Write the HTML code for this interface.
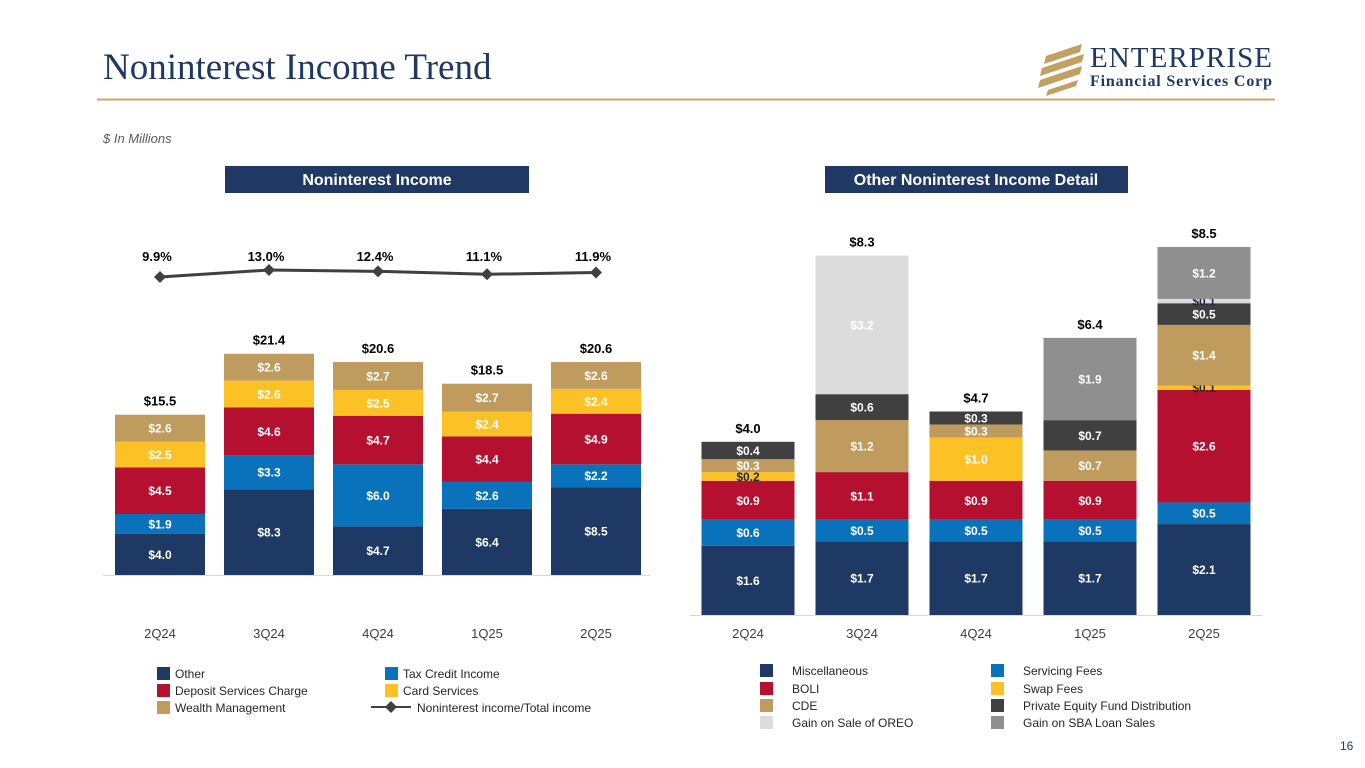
<!DOCTYPE html>
<html><head><meta charset="utf-8"><style>
body{margin:0;width:1365px;height:768px;background:#fff;overflow:hidden;font-family:"Liberation Sans",sans-serif;}
svg{position:absolute;left:0;top:0}
</style></head><body>
<svg id="s" width="1365" height="768" xmlns="http://www.w3.org/2000/svg">
<text x="103" y="79" font-family="Liberation Serif" font-size="37" fill="#1f3864">Noninterest Income Trend</text>
<g>
<polygon points="1046,56 1082,44 1080,52 1044,64" fill="#c2a061"/>
<polygon points="1042,68 1084,54 1082,62 1040,76" fill="#c2a061"/>
<polygon points="1040,80 1082,66 1080,74 1038,88" fill="#c2a061"/>
<polygon points="1048,90 1078,80 1076,86 1046,96" fill="#c2a061"/>
<text x="1090" y="67" font-family="Liberation Serif" font-size="29" fill="#1f3864" textLength="182">ENTERPRISE</text>
<text x="1090" y="86" font-family="Liberation Serif" font-size="16" font-weight="bold" fill="#1f3864" textLength="182">Financial Services Corp</text>
</g>
<line x1="97" y1="99.5" x2="1275" y2="99.5" stroke="#c8a96a" stroke-width="2"/>
<text x="103" y="143" font-size="13" font-style="italic" fill="#595959">$ In Millions</text>
<rect x="225" y="166" width="304" height="27" fill="#1f3864"/>
<text x="377" y="185" font-size="16" font-weight="bold" fill="#fff" text-anchor="middle">Noninterest Income</text>
<rect x="825" y="166" width="303" height="27" fill="#1f3864"/>
<text x="976" y="185" font-size="16" font-weight="bold" fill="#fff" text-anchor="middle">Other Noninterest Income Detail</text>
<text x="1340" y="750" font-size="12" fill="#1f3864">16</text>
<g id="L"></g><g id="R"></g>
</svg>
<script>
const catsL=["2Q24","3Q24","4Q24","1Q25","2Q25"];
const other=[4.0,8.3,4.7,6.4,8.5];
const taxCredit=[1.9,3.3,6.0,2.6,2.2];
const deposit=[4.5,4.6,4.7,4.4,4.9];
const card=[2.5,2.6,2.5,2.4,2.4];
const wealth=[2.6,2.6,2.7,2.7,2.6];
const ratio=[9.9,13.0,12.4,11.1,11.9];

const catsR=["2Q24","3Q24","4Q24","1Q25","2Q25"];
const misc=[1.6,1.7,1.7,1.7,2.1];
const servicing=[0.6,0.5,0.5,0.5,0.5];
const boli=[0.9,1.1,0.9,0.9,2.6];
const swap=[0.2,0,1.0,0,0.1];
const cde=[0.3,1.2,0.3,0.7,1.4];
const pe=[0.4,0.6,0.3,0.7,0.5];
const oreo=[0,3.2,0,0,0.1];
const sba=[0,0,0,1.9,1.2];

const NS="http://www.w3.org/2000/svg";
function mk(p,t,a,txt){const e=document.createElementNS(NS,t);for(const k in a)e.setAttribute(k,a[k]);if(txt!==undefined)e.textContent=txt;p.appendChild(e);return e;}
function stack(g,cats,series,x0,step,bw,base,sc,labelFn){
  cats.forEach((c,i)=>{
    let y=base,tot=0;const cx=x0+i*step;
    series.forEach(s=>{const v=s.d[i];if(!v)return;const h=v*sc;
      const r=mk(g,'rect',{x:cx-bw/2,y:y-h,width:bw,height:h,fill:s.c});
      
      
      const t=mk(g,'text',{x:cx,y:y-h/2+4.5,'font-size':12,'font-weight':'bold','text-anchor':'middle',fill:labelFn(v,s)},'$'+v.toFixed(1));
      
      
      y-=h;tot+=v;});
    const tt=mk(g,'text',{x:cx,y:y-9,'font-size':13,'font-weight':'bold','text-anchor':'middle',fill:'#000'},'$'+tot.toFixed(1));
    
    
    const cl=mk(g,'text',{x:cx,y:638,'font-size':13,'text-anchor':'middle',fill:'#404040'},c);
    
    
  });
}
// Left
const L=document.getElementById('L');
const ax1=mk(L,'line',{x1:103,y1:575.5,x2:650,y2:575.5,stroke:'#d9d9d9'});


stack(L,catsL,[{d:other,c:'#1e3a64',n:'other'},{d:taxCredit,c:'#0a72ba',n:'tax-credit'},{d:deposit,c:'#b5102f',n:'deposit'},{d:card,c:'#fcc225',n:'card'},{d:wealth,c:'#bf9b5e',n:'wealth'}],160,109,90,575,10.34,()=>'#fff');
const ry=v=>277-(v-9.9)*2.26;
const pts=ratio.map((v,i)=>(160+i*109)+','+ry(v)).join(' ');
const pl=mk(L,'polyline',{points:pts,fill:'none',stroke:'#404040','stroke-width':3});


ratio.forEach((v,i)=>{const x=160+i*109,y=ry(v);
  const d=mk(L,'polygon',{points:`${x},${y-6} ${x+6},${y} ${x},${y+6} ${x-6},${y}`,fill:'#404040'});
  
  
  const t=mk(L,'text',{x:x-3,y:261,'font-size':13,'font-weight':'bold','text-anchor':'middle',fill:'#000'},v.toFixed(1)+'%');
  
  });
// Right
const R=document.getElementById('R');
const ax2=mk(R,'line',{x1:690,y1:615.5,x2:1262,y2:615.5,stroke:'#d9d9d9'});


stack(R,catsR,[{d:misc,c:'#1e3a64',n:'misc'},{d:servicing,c:'#0a72ba',n:'servicing'},{d:boli,c:'#b5102f',n:'boli'},{d:swap,c:'#fcc225',n:'swap'},{d:cde,c:'#bf9b5e',n:'cde'},{d:pe,c:'#404040',n:'pe'},{d:oreo,c:'#dcdcdc',n:'oreo'},{d:sba,c:'#8f8f8f',n:'sba'}],748,114,93,615,43.3,(v)=>v<=0.2?'#1e2a44':'#fff');
// Legends
function leg(g,x,y,c,label,diamond){
  if(diamond){const l=mk(g,'line',{x1:x-14,y1:y,x2:x+26,y2:y,stroke:'#404040','stroke-width':2});
    const d=mk(g,'polygon',{points:`${x+6},${y-6} ${x+12},${y} ${x+6},${y+6} ${x},${y}`,fill:'#404040'});x+=32;}
  else{const r=mk(g,'rect',{x:x,y:y-6,width:13,height:13,fill:c});x+=18;}
  const t=mk(g,'text',{x:x,y:y+5,'font-size':12,fill:'#262626'},label);
  
  
}
leg(L,157,673,'#1e3a64','Other');leg(L,157,690,'#b5102f','Deposit Services Charge');leg(L,157,707,'#bf9b5e','Wealth Management');
leg(L,385,673,'#0a72ba','Tax Credit Income');leg(L,385,690,'#fcc225','Card Services');leg(L,385,707,'','Noninterest income/Total income',true);
function leg2(x,y,c,label){const r=mk(R,'rect',{x:x,y:y-6,width:13,height:13,fill:c});
  const t=mk(R,'text',{x:x+32,y:y+5,'font-size':12,fill:'#262626'},label);}
leg2(760,670,'#1e3a64','Miscellaneous');leg2(760,688,'#b5102f','BOLI');leg2(760,705,'#bf9b5e','CDE');leg2(760,722,'#dcdcdc','Gain on Sale of OREO');
leg2(991,670,'#0a72ba','Servicing Fees');leg2(991,688,'#fcc225','Swap Fees');leg2(991,705,'#404040','Private Equity Fund Distribution');leg2(991,722,'#8f8f8f','Gain on SBA Loan Sales');
</script>
</body></html>
